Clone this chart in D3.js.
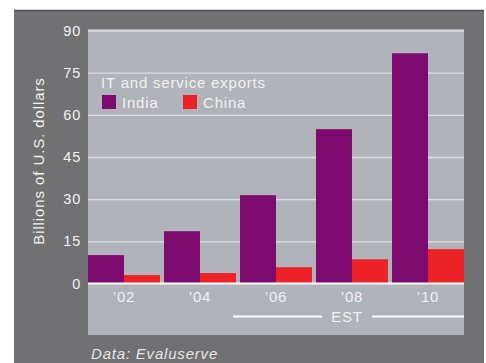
<!DOCTYPE html>
<html>
<head>
<meta charset="utf-8">
<script src="https://cdn.jsdelivr.net/npm/d3@7"></script>
<style>
  body { margin: 0; background: #fff; }
  svg text { font-family: "Liberation Sans", Arial, sans-serif; letter-spacing: 0.8px; }
</style>
</head>
<body>
<div id="chart"></div>
<script>
var years = ['\u201902', '\u201904', '\u201906', '\u201908', '\u201910'];
var india = [10.1, 18.6, 31.4, 54.9, 81.9];
var china = [3.0, 3.7, 5.8, 8.6, 12.2];
var seriesNames = ['India', 'China'];
var yTicks = [0, 15, 30, 45, 60, 75, 90];

var
  w = 486,
  h = 363,
  plotLeft = 88,
  plotRight = 464,
  plotTop = 30.5,
  plotBottom = 283.5,
  colors = {India: '#7c0a6f', China: '#ed2227'},
  txt = '#f1f1f1';

var rows = years.map(function(yr, i) {
  return {year: yr, India: india[i], China: china[i]};
});

var x0 = d3.scaleBand().domain(years).range([plotLeft, plotRight]).paddingInner(4 / 76).paddingOuter(0);
var x1 = d3.scaleBand().domain(seriesNames).range([0, x0.bandwidth()]);
var y = d3.scaleLinear().domain([0, 90]).range([plotBottom, plotTop]);

var chart = d3.select('#chart').append('svg')
  .attr('width', w)
  .attr('height', h);

// tail of the cut-off headline above the panel
chart.append('text')
  .attr('x', 272).attr('y', -9)
  .attr('font-size', 40).attr('font-weight', 'bold')
  .attr('fill', '#6a6a6c')
  .text('g');

// dark panel
chart.append('rect')
  .attr('x', 14).attr('y', 10).attr('width', 470).attr('height', h - 10)
  .attr('fill', '#717073');
chart.append('line')
  .attr('x1', 14).attr('x2', 484).attr('y1', 10.5).attr('y2', 10.5)
  .attr('stroke', '#4f4f51').attr('stroke-width', 1.5);

// plot background
chart.append('rect')
  .attr('x', plotLeft).attr('y', 29).attr('width', plotRight - plotLeft).attr('height', 335 - 29)
  .attr('fill', '#b0b3b9');

// gridlines
var grid = chart.append('g')
  .attr('transform', 'translate(' + plotLeft + ',0)')
  .call(d3.axisLeft(y).tickValues(yTicks.slice(1)).tickSize(-(plotRight - plotLeft)).tickFormat(''));
grid.select('.domain').remove();
grid.selectAll('.tick line').attr('stroke', '#dcdde0').attr('stroke-width', 1.3);

// y tick labels
var yAxis = chart.append('g')
  .attr('transform', 'translate(' + plotLeft + ',0)')
  .call(d3.axisLeft(y).tickValues(yTicks).tickSize(0).tickPadding(7));
yAxis.select('.domain').remove();
yAxis.selectAll('text')
  .attr('fill', txt).attr('font-size', 14.5)
  .style('font-family', '"Liberation Sans", Arial, sans-serif');

chart.append('text')
  .attr('transform', 'translate(43.5,' + 161 + ') rotate(-90)')
  .attr('text-anchor', 'middle')
  .attr('fill', txt).attr('font-size', 15)
  .style('letter-spacing', '0.9px')
  .text('Billions of U.S. dollars');

// bars
var groups = chart.append('g').selectAll('.group')
  .data(rows)
  .enter().append('g')
    .attr('class', 'group')
    .attr('transform', function(d) { return 'translate(' + x0(d.year) + ',0)'; });

groups.selectAll('rect')
  .data(function(d) { return seriesNames.map(function(k) { return {key: k, value: d[k]}; }); })
  .enter().append('rect')
    .attr('x', function(d) { return x1(d.key); })
    .attr('width', x1.bandwidth())
    .attr('y', function(d) { return y(d.value); })
    .attr('height', function(d) { return y(0) - y(d.value); })
    .attr('fill', function(d) { return colors[d.key]; });

// zero line
chart.append('line')
  .attr('x1', plotLeft).attr('x2', plotRight).attr('y1', y(0)).attr('y2', y(0))
  .attr('stroke', '#ffffff').attr('stroke-width', 2.2);

// x axis labels
var xAxis = chart.append('g')
  .attr('transform', 'translate(0,' + y(0) + ')')
  .call(d3.axisBottom(x0).tickSize(0).tickPadding(8));
xAxis.select('.domain').remove();
xAxis.selectAll('text')
  .attr('fill', txt).attr('font-size', 15)
  .style('font-family', '"Liberation Sans", Arial, sans-serif');

// estimate marker
chart.append('line')
  .attr('x1', 233).attr('x2', 322).attr('y1', 316.5).attr('y2', 316.5)
  .attr('stroke', '#fff').attr('stroke-width', 2);
chart.append('line')
  .attr('x1', 372).attr('x2', plotRight).attr('y1', 316.5).attr('y2', 316.5)
  .attr('stroke', '#fff').attr('stroke-width', 2);
chart.append('text')
  .attr('x', 347).attr('y', 322)
  .attr('text-anchor', 'middle')
  .attr('fill', txt).attr('font-size', 15)
  .text('EST');

// legend
chart.append('text')
  .attr('x', 101).attr('y', 88)
  .attr('fill', txt).attr('font-size', 15)
  .text('IT and service exports');

var leg = chart.append('g').selectAll('.leg')
  .data(seriesNames)
  .enter().append('g')
    .attr('transform', function(d, i) { return 'translate(' + (102 + i * 81) + ',95)'; });
leg.append('rect')
  .attr('width', 14).attr('height', 14)
  .attr('fill', function(d) { return colors[d]; });
leg.append('text')
  .attr('x', 20).attr('y', 13)
  .attr('fill', txt).attr('font-size', 15)
  .text(function(d) { return d; });

// source
chart.append('text')
  .attr('x', 91).attr('y', 359)
  .attr('fill', '#e6e6e6').attr('font-size', 15).attr('font-style', 'italic')
  .text('Data: Evaluserve');
</script>
</body>
</html>
